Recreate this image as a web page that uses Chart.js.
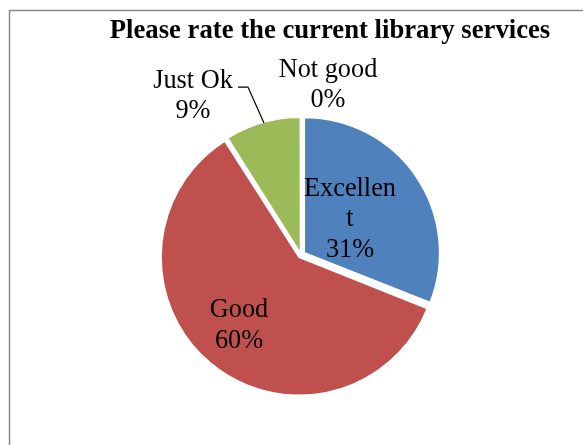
<!DOCTYPE html>
<html lang="en">
<head>
    <meta charset="UTF-8">
    <title>Library services</title>
    <script src="https://cdn.jsdelivr.net/npm/chart.js"></script>
    <style>
        body {
            margin: 0;
            background: white;
        }
        #chart {
            position: absolute;
            left: 0;
            top: 0;
        }
    </style>
</head>
<body>
<canvas id="chart" width="583" height="445"></canvas>
<script>
    // chart data
    const categories = ["Excellent", "Good", "Just Ok", "Not good"];
    const shares = [31, 60, 9, 0];
    const labelLines = [["Excellen", "t", "31%"], ["Good", "60%"], ["Just Ok", "9%"], ["Not good", "0%"]];
    const chartTitle = "Please rate the current library services";

    // look
    const colors = ["#4F81BD", "#C0504D", "#9BBB59", "#8064A2"];
    // chart.js moves an arc by offset/4 px (and grows it a bit)
    const explode = [16, 12, 8, 0];
    // label block centres, relative to pie centre in units of radius
    const labelPos = [[0.363, -0.263], [-0.459, 0.522], [-0.800, -1.178], [0.200, -1.259]];

    const frame = {
        id: 'frame',
        beforeDraw(chart) {
            const c = chart.ctx;
            c.save();
            c.strokeStyle = '#8a8a8a';
            c.lineWidth = 1.5;
            c.strokeRect(9.5, 10.5, 700, 600);
            c.fillStyle = '#000';
            c.font = 'bold 26.7px "Liberation Serif"';
            c.textAlign = 'center';
            c.textBaseline = 'alphabetic';
            c.fillText(chartTitle, 330, 38);
            c.restore();
        }
    };

    const pieLabels = {
        id: 'pieLabels',
        afterDatasetsDraw(chart) {
            const c = chart.ctx;
            const arcs = chart.getDatasetMeta(0).data;
            const cx = arcs[0].x, cy = arcs[0].y, r = arcs[0].outerRadius;
            c.save();
            c.fillStyle = '#000';
            c.font = '26.3px "Liberation Serif"';
            c.textAlign = 'center';
            c.textBaseline = 'middle';
            const lh = 30.5;
            labelLines.forEach((lines, i) => {
                const x = cx + labelPos[i][0] * r;
                const y0 = cy + labelPos[i][1] * r - (lines.length - 1) * lh / 2;
                lines.forEach((t, k) => c.fillText(t, x, y0 + k * lh));
            });
            // leader line for Just Ok
            c.strokeStyle = '#000';
            c.lineWidth = 1.2;
            c.beginPath();
            c.moveTo(cx - 0.467 * r, cy - 1.244 * r);
            c.lineTo(cx - 0.393 * r, cy - 1.244 * r);
            c.lineTo(cx - 0.274 * r, cy - 0.978 * r);
            c.stroke();
            c.restore();
        }
    };

    new Chart(document.getElementById('chart'), {
        type: 'pie',
        data: {
            labels: categories,
            datasets: [{
                data: shares,
                backgroundColor: colors,
                borderColor: '#ffffff',
                borderWidth: 1.5,
                offset: explode,
                radius: 135
            }]
        },
        options: {
            responsive: false,
            animation: false,
            layout: { padding: { left: 19, right: 0, top: 65, bottom: 0 } },
            plugins: {
                legend: { display: false },
                title: { display: false },
                tooltip: { enabled: false }
            }
        },
        plugins: [frame, pieLabels]
    });
</script>
</body>
</html>
